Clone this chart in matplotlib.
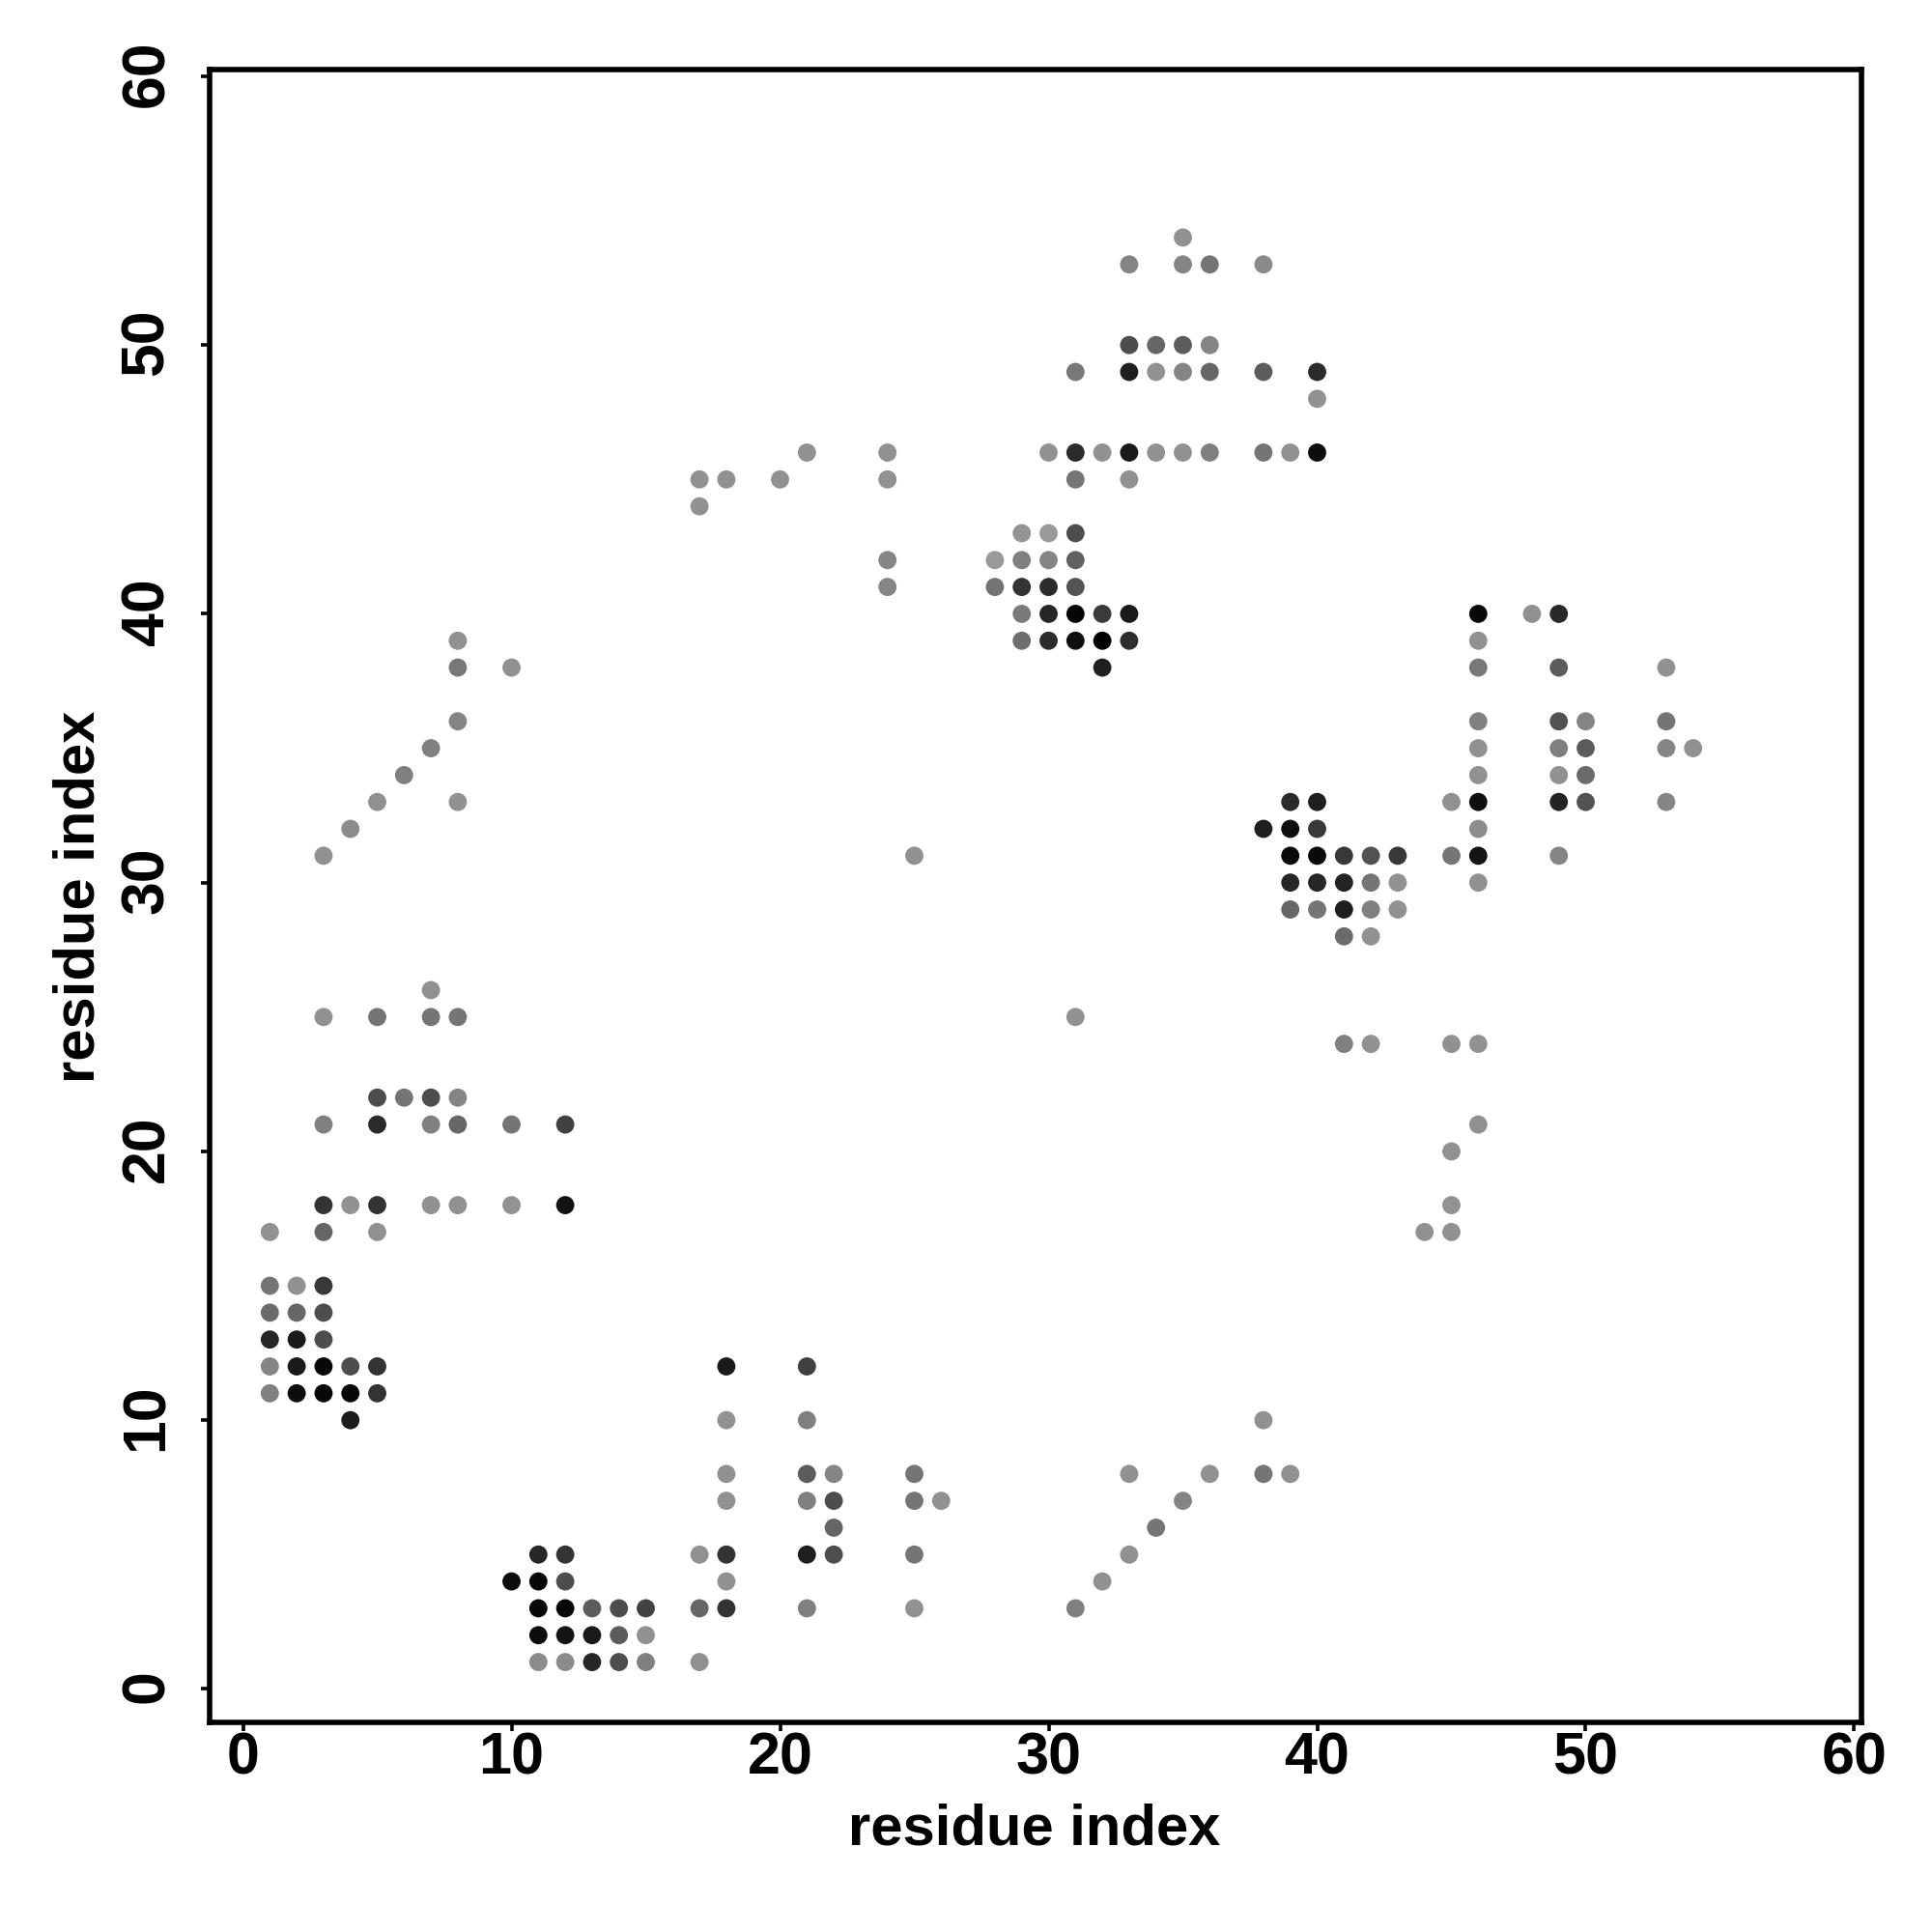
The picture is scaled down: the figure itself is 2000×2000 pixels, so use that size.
#!/usr/bin/env python3
import matplotlib
matplotlib.use('Agg')
import matplotlib.pyplot as plt
from matplotlib.transforms import ScaledTranslation

plt.rcParams['font.family'] = ['Liberation Sans', 'DejaVu Sans']
plt.rcParams['font.weight'] = 'bold'

# ---- contact map, one source line per row of residues ----
res_x = [
    35,
    33, 35, 36, 38,
    33, 34, 35, 36,
    31, 33, 34, 35, 36, 38, 40,
    40,
    21, 24, 30, 31, 32, 33, 34, 35, 36, 38, 39, 40,
    17, 18, 20, 24, 31, 33,
    17,
    29, 30, 31,
    24, 28, 29, 30, 31,
    24, 28, 29, 30, 31,
    29, 30, 31, 32, 33, 46, 48, 49,
    8, 29, 30, 31, 32, 33, 46,
    8, 10, 32, 46, 49, 53,
    8, 46, 49, 50, 53,
    7, 46, 49, 50, 53, 54,
    6, 46, 49, 50,
    5, 8, 39, 40, 45, 46, 49, 50, 53,
    4, 38, 39, 40, 46,
    3, 25, 39, 40, 41, 42, 43, 45, 46, 49,
    39, 40, 41, 42, 43, 46,
    39, 40, 41, 42, 43,
    41, 42,
    7,
    3, 5, 7, 8, 31,
    41, 42, 45, 46,
    5, 6, 7, 8,
    3, 5, 7, 8, 10, 12, 46,
    45,
    3, 4, 5, 7, 8, 10, 12, 45,
    1, 3, 5, 44, 45,
    1, 2, 3,
    1, 2, 3,
    1, 2, 3,
    1, 2, 3, 4, 5, 18, 21,
    1, 2, 3, 4, 5,
    4, 18, 21, 38,
    18, 21, 22, 25, 33, 36, 38, 39,
    18, 21, 22, 25, 26, 35,
    22, 34,
    11, 12, 17, 18, 21, 22, 25, 33,
    10, 11, 12, 18, 32,
    11, 12, 13, 14, 15, 17, 18, 21, 25, 31,
    11, 12, 13, 14, 15,
    11, 12, 13, 14, 15, 17,
]
res_y = [
    54,
    53, 53, 53, 53,
    50, 50, 50, 50,
    49, 49, 49, 49, 49, 49, 49,
    48,
    46, 46, 46, 46, 46, 46, 46, 46, 46, 46, 46, 46,
    45, 45, 45, 45, 45, 45,
    44,
    43, 43, 43,
    42, 42, 42, 42, 42,
    41, 41, 41, 41, 41,
    40, 40, 40, 40, 40, 40, 40, 40,
    39, 39, 39, 39, 39, 39, 39,
    38, 38, 38, 38, 38, 38,
    36, 36, 36, 36, 36,
    35, 35, 35, 35, 35, 35,
    34, 34, 34, 34,
    33, 33, 33, 33, 33, 33, 33, 33, 33,
    32, 32, 32, 32, 32,
    31, 31, 31, 31, 31, 31, 31, 31, 31, 31,
    30, 30, 30, 30, 30, 30,
    29, 29, 29, 29, 29,
    28, 28,
    26,
    25, 25, 25, 25, 25,
    24, 24, 24, 24,
    22, 22, 22, 22,
    21, 21, 21, 21, 21, 21, 21,
    20,
    18, 18, 18, 18, 18, 18, 18, 18,
    17, 17, 17, 17, 17,
    15, 15, 15,
    14, 14, 14,
    13, 13, 13,
    12, 12, 12, 12, 12, 12, 12,
    11, 11, 11, 11, 11,
    10, 10, 10, 10,
    8, 8, 8, 8, 8, 8, 8, 8,
    7, 7, 7, 7, 7, 7,
    6, 6,
    5, 5, 5, 5, 5, 5, 5, 5,
    4, 4, 4, 4, 4,
    3, 3, 3, 3, 3, 3, 3, 3, 3, 3,
    2, 2, 2, 2, 2,
    1, 1, 1, 1, 1, 1,
]
# grey level of each point (0 black, 1 white)
res_grey = [
    .57,
    .52, .52, .46, .54,
    .30, .40, .36, .52,
    .47, .12, .57, .52, .40, .36, .17,
    .57,
    .57, .57, .57, .17, .57, .10, .57, .57, .50, .46, .57, .05,
    .57, .57, .57, .57, .46, .57,
    .57,
    .58, .60, .30,
    .52, .60, .50, .52, .38,
    .52, .45, .20, .17, .33,
    .48, .15, .02, .23, .10, .03, .57, .16,
    .57, .43, .17, .06, .00, .18, .57,
    .47, .57, .12, .47, .36, .57,
    .52, .50, .32, .52, .46,
    .50, .57, .50, .36, .52, .57,
    .50, .57, .57, .42,
    .57, .57, .17, .12, .57, .06, .14, .32, .52,
    .55, .12, .06, .22, .55,
    .57, .57, .04, .04, .22, .32, .22, .46, .08, .52,
    .15, .15, .14, .46, .57, .57,
    .40, .46, .12, .50, .57,
    .42, .57,
    .57,
    .57, .46, .46, .46, .57,
    .50, .57, .57, .57,
    .30, .46, .30, .52,
    .50, .17, .50, .40, .46, .25, .57,
    .57,
    .20, .57, .20, .57, .57, .57, .07, .57,
    .57, .40, .57, .57, .57,
    .46, .57, .22,
    .42, .40, .30,
    .15, .10, .30,
    .52, .10, .03, .30, .20, .10, .25,
    .50, .05, .03, .03, .20,
    .10, .57, .50, .57,
    .57, .36, .52, .46, .57, .57, .46, .57,
    .57, .50, .30, .46, .57, .52,
    .40, .46,
    .15, .20, .57, .20, .12, .30, .46, .57,
    .05, .03, .30, .57, .57,
    .03, .03, .36, .30, .26, .40, .20, .50, .57, .50,
    .05, .08, .10, .36, .57,
    .55, .55, .15, .30, .50, .57,
]

tick_values = [0, 10, 20, 30, 40, 50, 60]
axis_label = 'residue index'

fig = plt.figure(figsize=(10, 10), dpi=200)
# axes box measured in pixels on the 2000x2000 canvas
ax = fig.add_axes([216.5 / 2000, 1 - 1783 / 2000, (1927 - 216.5) / 2000, (1783 - 72) / 2000])

ax.scatter(res_x, res_y, s=46, c=[str(g) for g in res_grey], linewidths=0, zorder=3)

ax.set_xlim(-1.26, 60.27)
ax.set_ylim(-1.244, 60.25)
ax.set_xticks(tick_values)
ax.set_yticks(tick_values)
ax.tick_params(axis='x', length=3.4, width=1.3, labelsize=22, pad=0)
ax.tick_params(axis='y', length=3.4, width=1.3, labelsize=22.5, pad=9)
# y tick labels sit a touch above their ticks in the original
nudge = ScaledTranslation(0, 1 / 72, fig.dpi_scale_trans)
for lab in ax.get_yticklabels():
    lab.set_rotation(90)
    lab.set_va('center')
    lab.set_transform(lab.get_transform() + nudge)

for sp in ax.spines.values():
    sp.set_linewidth(2.0)

fig.text(1071 / 2000, 1 - 1894 / 2000, axis_label, fontsize=21.5, fontweight='bold',
         ha='center', va='center')
fig.text(82 / 2000, 1 - 928 / 2000, axis_label, fontsize=21.5, fontweight='bold',
         ha='center', va='center', rotation=90)

fig.savefig('out.png', dpi=200)
plt.close(fig)
